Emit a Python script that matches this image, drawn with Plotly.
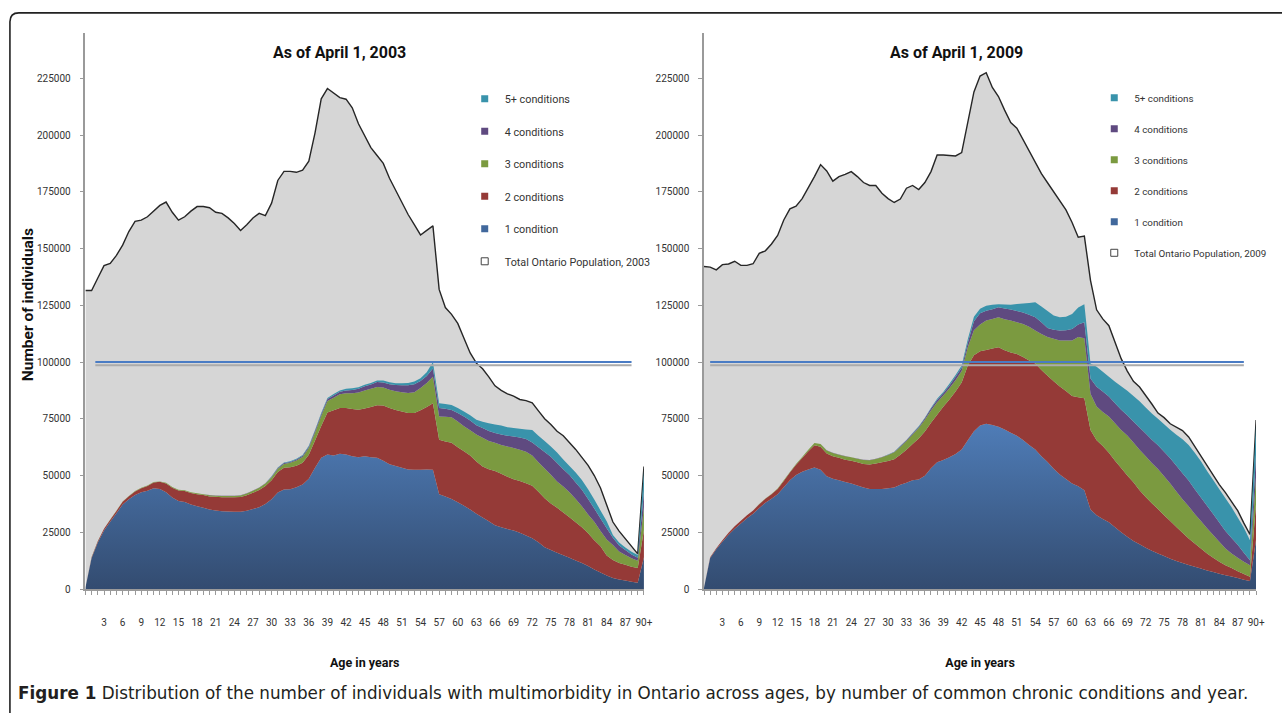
import plotly.graph_objects as go

# ---------------- data (values in thousands of individuals) ----------------
ages = list(range(91))
age_tick_vals = list(range(3, 91, 3))
age_tick_text = [str(a) for a in range(3, 90, 3)] + ["90+"]
y_tick_vals = [0, 25000, 50000, 75000, 100000, 125000, 150000, 175000, 200000, 225000]
reference_level = 100000

series_names = ["1 condition", "2 conditions", "3 conditions", "4 conditions", "5+ conditions"]

total_2003_k = [131.5, 131.5, 137, 142.5, 143.5, 147, 151.5, 157.5, 162, 162.5,
                164, 166.5, 169, 170.5, 166, 162.5, 164, 166.5, 168.5, 168.5,
                168, 166, 165.5, 163.5, 161, 158, 160.5, 163.5, 165.5, 164.5,
                170, 180, 184, 184, 183.6, 184.5, 188.5, 201, 216, 220.5,
                218.5, 216.5, 215.8, 212, 205, 199.5, 194.5, 191, 187.5, 181,
                175.5, 170.5, 165, 160.5, 156, 158, 160, 132, 124, 121,
                117, 110.5, 104, 99.5, 97, 93.5, 89.5, 87.5, 86, 85,
                83.5, 83, 82, 78.5, 75, 72.5, 69.5, 67.5, 64.5, 61.5,
                58, 54.5, 50, 44.5, 37, 29.5, 25.5, 22, 19, 15.5,
                54]
one_2003_k = [0.5, 13.7, 20.5, 25.8, 29.6, 33.4, 37.2, 39.5, 41.4, 42.6,
              43.3, 44.4, 44.1, 42.6, 40.3, 38.8, 38.3, 37.2, 36.5, 35.8,
              35, 34.6, 34.3, 34.2, 34, 34, 34.5, 35.2, 36, 37.5,
              39.5, 42.5, 43.8, 44, 44.8, 46, 48.6, 53.4, 57.8, 59.3,
              58.8, 59.6, 59.3, 58.5, 58.1, 58.5, 58.1, 57.8, 56.5, 55,
              54.2, 53.4, 52.7, 52.5, 52.5, 52.7, 52.5, 41.8, 40.8, 39.6,
              38.2, 36.7, 35, 33.2, 31.5, 29.8, 28.1, 27.2, 26.4, 25.8,
              24.8, 23.6, 22.4, 20.6, 18.4, 17.2, 16, 14.9, 13.8, 12.6,
              11.4, 10.1, 8.6, 7.3, 5.9, 4.9, 4.2, 3.7, 3.2, 2.8,
              14]
two_2003_k = [0, 0.3, 0.5, 0.7, 0.9, 1.0, 1.2, 1.4, 1.6, 1.8,
              2.1, 2.5, 3.1, 3.9, 4.3, 4.6, 4.9, 5.1, 5.3, 5.6,
              5.8, 6.0, 6.1, 6.2, 6.4, 6.5, 6.8, 7.2, 7.6, 7.9,
              8.4, 9.0, 9.6, 9.6, 9.5, 9.6, 10.5, 12.0, 14.0, 18.5,
              20.0, 20.2, 20.5, 20.8, 20.9, 21.0, 22.1, 23.2, 24.3, 24.8,
              24.7, 24.8, 24.9, 25.0, 26.3, 27.5, 29.3, 24.0, 24.2, 24.8,
              24.3, 24.0, 23.8, 23.0, 22.5, 23.0, 23.9, 23.6, 23.1, 22.6,
              22.8, 23.0, 23.1, 22.2, 21.6, 20.5, 19.8, 18.8, 17.8, 16.8,
              15.8, 14.5, 12.9, 11.5, 8.9, 7.9, 7.3, 7.0, 6.6, 6.4,
              12]
three_2003_k = [0, 0.05, 0.1, 0.1, 0.1, 0.1, 0.1, 0.1, 0.2, 0.2,
                0.2, 0.2, 0.2, 0.3, 0.3, 0.3, 0.3, 0.3, 0.4, 0.4,
                0.5, 0.5, 0.6, 0.6, 0.6, 0.7, 0.8, 0.9, 1.0, 1.1,
                1.3, 1.5, 1.7, 2.0, 2.3, 2.6, 3.0, 3.6, 4.4, 5.0,
                5.5, 6.0, 6.5, 7.0, 7.6, 8.0, 8.0, 8.0, 8.0, 8.0,
                8.2, 8.5, 8.8, 9.2, 9.8, 10.6, 11.7, 10.2, 10.9, 11.3,
                11.3, 11.0, 11.1, 11.9, 12.6, 12.4, 12.4, 12.7, 13.3, 13.7,
                13.7, 13.9, 13.3, 13.0, 13.1, 12.6, 11.6, 11.5, 11.0, 10.2,
                9.3, 8.2, 8.1, 6.7, 7.0, 6.6, 5.0, 4.3, 3.7, 3.3,
                10]
four_2003_k = [0, 0, 0, 0, 0, 0, 0, 0, 0, 0,
               0, 0, 0, 0, 0, 0, 0, 0, 0, 0,
               0.1, 0.1, 0.1, 0.1, 0.1, 0.1, 0.1, 0.1, 0.1, 0.1,
               0.3, 0.3, 0.4, 0.4, 0.5, 0.5, 0.6, 0.7, 0.8, 0.9,
               1.0, 1.1, 1.2, 1.4, 1.6, 1.8, 1.9, 2.2, 2.2, 2.4,
               2.8, 3.1, 3.4, 3.5, 3.0, 3.0, 3.6, 3.8, 3.5, 3.2,
               3.7, 4.3, 4.3, 4.1, 4.3, 4.4, 4.3, 4.6, 4.7, 5.1,
               5.4, 5.6, 5.8, 6.7, 7.3, 8.0, 8.1, 7.6, 7.6, 7.3,
               7.2, 6.9, 5.9, 5.6, 5.0, 3.2, 2.7, 2.2, 1.7, 1.3,
               7]
five_2003_k = [0, 0, 0, 0, 0, 0, 0, 0, 0, 0,
               0, 0, 0, 0, 0, 0, 0, 0, 0, 0,
               0, 0, 0, 0, 0, 0, 0, 0, 0, 0,
               0.2, 0.2, 0.2, 0.3, 0.3, 0.3, 0.4, 0.4, 0.5, 0.5,
               0.6, 0.6, 0.7, 0.7, 0.7, 0.7, 0.7, 0.7, 0.9, 0.9,
               0.8, 0.8, 1.0, 1.2, 1.3, 1.7, 2.9, 2.0, 2.1, 2.2,
               2.3, 2.2, 2.3, 2.4, 2.8, 3.4, 3.8, 3.9, 3.8, 3.7,
               3.9, 4.2, 5.4, 5.0, 4.8, 4.5, 4.6, 4.3, 4.0, 4.4,
               4.3, 4.3, 3.9, 3.5, 3.0, 1.2, 1.3, 1.1, 1.2, 1.2,
               9]

total_2009_k = [142.1, 141.8, 140.6, 142.9, 143.2, 144.4, 142.6, 142.6, 143.3, 147.9,
                149, 152, 155.8, 162.6, 167.5, 168.7, 172, 176.6, 181.7, 187,
                184.2, 179.7, 181.7, 182.7, 183.9, 181.7, 179.1, 177.8, 177.8, 174.4,
                172, 170.3, 171.8, 176.6, 177.8, 176, 179.1, 183.9, 191.2, 191.2,
                190.9, 190.8, 192.3, 205, 219, 226, 227.5, 221, 217, 211,
                205.5, 203, 198, 192.5, 188, 183, 179, 175, 171, 167,
                161.5, 155, 155.5, 136, 123, 119, 116, 109, 101.5, 96,
                91.5, 89, 85.5, 81.5, 77.5, 75.5, 72.8, 71.2, 69.8, 67,
                62.8, 59, 54.5, 50.3, 46, 42.5, 38.5, 34.5, 29, 24,
                74.5]
one_2009_k = [0.5, 13.7, 17.5, 20.8, 23.9, 26.6, 28.9, 31.2, 33.1, 35.7,
              38, 39.8, 41.8, 44.8, 47.9, 50.2, 51.7, 52.7, 53.5, 52.5,
              49.7, 48.6, 47.9, 47.1, 46.5, 45.6, 44.7, 44.1, 44.1, 44.1,
              44.4, 44.7, 45.9, 46.8, 47.9, 48.3, 49.9, 53.2, 55.8, 56.8,
              58, 59.5, 61.5, 65.5, 69.5, 72, 72.8, 72.3, 71.5, 70.3,
              68.8, 67.5, 65.7, 63.5, 61.5, 58.5, 56, 53, 50.5, 48.5,
              46.5, 45.3, 43.5, 35, 32.5, 30.8, 29.4, 27.2, 25, 23,
              21.2, 19.7, 18.2, 16.8, 15.6, 14.5, 13.3, 12.3, 11.4, 10.6,
              9.8, 9, 8.2, 7.5, 6.7, 6.1, 5.5, 4.8, 4.1, 3.5,
              22]
two_2009_k = [0, 0.3, 0.5, 0.7, 0.9, 1.0, 1.2, 1.3, 1.5, 1.6,
              1.8, 2.0, 2.3, 2.8, 3.4, 4.5, 6.0, 8.0, 9.8, 10.2,
              10.0, 9.9, 9.9, 9.9, 10.0, 10.2, 10.4, 10.8, 11.2, 11.7,
              12.0, 12.5, 13.2, 14.5, 16.0, 18.0, 19.5, 20.0, 21.0, 23.5,
              25.5, 27.5, 29.5, 33.0, 33.5, 32.8, 32.5, 33.7, 35.0, 34.9,
              35.4, 36.0, 36.5, 37.2, 37.8, 38.0, 38.0, 38.5, 38.7, 38.7,
              38.5, 39.2, 40.5, 35.0, 33.0, 32.2, 30.6, 29.3, 28.3, 27.0,
              25.8, 23.8, 22.3, 21.0, 19.7, 18.0, 16.7, 15.0, 13.4, 11.6,
              10.2, 8.8, 7.4, 6.3, 5.3, 4.4, 3.7, 3.0, 2.5, 1.9,
              16]
three_2009_k = [0, 0, 0, 0, 0, 0, 0, 0, 0, 0.1,
                0.1, 0.1, 0.2, 0.3, 0.3, 0.4, 0.5, 0.7, 1.0, 1.2,
                1.3, 1.4, 1.4, 1.5, 1.5, 1.6, 1.7, 1.8, 2.0, 2.3,
                2.6, 3.0, 3.5, 3.9, 4.2, 4.6, 5.2, 5.5, 5.5, 5.0,
                5.0, 5.0, 5.0, 8.0, 11.0, 11.7, 13.0, 13.0, 13.2, 13.6,
                14.1, 14.0, 14.6, 14.8, 14.6, 15.9, 17.0, 18.8, 20.3, 22.3,
                24.5, 26.5, 26.5, 16.0, 14.9, 15.0, 16.0, 16.5, 16.7, 17.6,
                17.5, 17.8, 18.0, 17.7, 17.6, 17.2, 16.5, 15.7, 14.7, 14.3,
                13.0, 12.2, 11.2, 10.0, 8.8, 7.3, 6.4, 6.0, 5.4, 5.1,
                12]
four_2009_k = [0, 0, 0, 0, 0, 0, 0, 0, 0, 0,
               0, 0, 0, 0, 0, 0, 0, 0, 0, 0,
               0.1, 0.1, 0.1, 0.1, 0.1, 0.1, 0.1, 0.1, 0.1, 0.1,
               0.2, 0.2, 0.3, 0.3, 0.4, 0.5, 0.6, 0.8, 1.0, 1.0,
               1.2, 1.5, 1.5, 2.0, 4.0, 5.0, 4.3, 4.3, 4.4, 4.8,
               4.9, 5.0, 5.0, 5.3, 5.8, 5.1, 4.0, 3.9, 4.4, 4.5,
               5.1, 5.5, 7.0, 6.8, 8.7, 9.0, 8.8, 8.8, 9.0, 8.9,
               9.3, 9.9, 10.0, 10.3, 10.4, 10.8, 11.1, 11.3, 11.5, 11.3,
               11.0, 10.3, 9.9, 9.2, 8.5, 7.7, 6.9, 5.7, 4.0, 2.2,
               10]
five_2009_k = [0, 0, 0, 0, 0, 0, 0, 0, 0, 0,
               0, 0, 0, 0, 0, 0, 0, 0, 0, 0,
               0, 0, 0, 0, 0, 0, 0, 0, 0, 0,
               0.1, 0.1, 0.2, 0.2, 0.2, 0.3, 0.3, 0.4, 0.5, 0.5,
               0.7, 0.8, 1.0, 1.5, 2.0, 2.0, 2.2, 1.9, 1.4, 1.7,
               2.0, 3.1, 4.0, 5.2, 6.6, 7.0, 7.5, 6.3, 5.8, 6.0,
               6.6, 7.5, 8.0, 6.5, 8.8, 8.7, 8.7, 9.5, 10.3, 10.8,
               11.2, 11.5, 11.5, 11.5, 11.7, 12.1, 12.6, 13.7, 15.0, 15.7,
               16.0, 16.0, 15.3, 15.0, 14.7, 14.5, 13.5, 12.0, 11.0, 8.8,
               13]

panels = [
    {"year": "2003", "total": total_2003_k,
     "layers": [one_2003_k, two_2003_k, three_2003_k, four_2003_k, five_2003_k]},
    {"year": "2009", "total": total_2009_k,
     "layers": [one_2009_k, two_2009_k, three_2009_k, four_2009_k, five_2009_k]},
]

# ---------------- styling ----------------
W, H = 1282, 713
FONT = "Roboto, Liberation Sans, sans-serif"
layer_colors = ["#41689c", "#953a37", "#7b9a40", "#5f4a80", "#3993ab"]
blue_gradient = [[0, "#324a6e"], [1, "#4f7db8"]]
GREY_FILL = "#d6d6d6"
AXIS_GREY = "#9a9a9a"


def px_x(p):
    return p / W


def px_y(p):
    return 1 - p / H


Y_MAX = 245000
y_domain = [px_y(594), px_y(594 - Y_MAX * 515 / 225000)]
x_domains = [[px_x(86), px_x(648.5)], [px_x(709), px_x(1265)]]

fig = go.Figure()

for i, panel in enumerate(panels):
    xa = "x" if i == 0 else "x2"
    ya = "y" if i == 0 else "y2"
    fig.add_trace(go.Scatter(
        x=ages, y=[v * 1000 for v in panel["total"]], xaxis=xa, yaxis=ya,
        mode="lines", fill="tozeroy", fillcolor=GREY_FILL,
        line=dict(color="#262626", width=1.4),
        name="Total Ontario Population, " + panel["year"], showlegend=False,
        hoverinfo="skip"))
    for j, (layer, name) in enumerate(zip(panel["layers"], series_names)):
        tr = dict(x=ages, y=[v * 1000 for v in layer], xaxis=xa, yaxis=ya,
                  mode="none", stackgroup="s" + panel["year"], name=name,
                  showlegend=False, hoverinfo="skip")
        if j == 0:
            tr["fillgradient"] = dict(type="vertical", colorscale=blue_gradient,
                                      start=0, stop=75000)
        else:
            tr["fillcolor"] = layer_colors[j]
        fig.add_trace(go.Scatter(**tr))

    # legend entries (small square markers), 5+ first, total last
    leg = "legend" if i == 0 else "legend2"
    for j in range(4, -1, -1):
        fig.add_trace(go.Scatter(
            x=[None], y=[None], xaxis=xa, yaxis=ya, mode="markers",
            marker=dict(symbol="square", size=7, color=layer_colors[j]),
            name=series_names[j], legend=leg, legendgroup=leg + str(j)))
    fig.add_trace(go.Scatter(
        x=[None], y=[None], xaxis=xa, yaxis=ya, mode="markers",
        marker=dict(symbol="square", size=7, color="white",
                    line=dict(color="#444", width=1)),
        name="Total Ontario Population, " + panel["year"], legend=leg,
        legendgroup=leg + "t"))

axis_common = dict(showline=True, linecolor=AXIS_GREY, linewidth=1.5,
                   ticks="outside", ticklen=4, tickcolor=AXIS_GREY,
                   showgrid=False, zeroline=False, fixedrange=True,
                   tickfont=dict(family=FONT, size=10, color="#333"))

for i in range(2):
    xkey = "xaxis" if i == 0 else "xaxis2"
    ykey = "yaxis" if i == 0 else "yaxis2"
    xaxis = dict(axis_common, domain=x_domains[i], range=[0, 90],
                 tickmode="array", tickvals=age_tick_vals, ticktext=age_tick_text,
                 tickangle=0, ticklabelstandoff=19, anchor="y" if i == 0 else "y2",
                 minor=dict(dtick=1, tick0=0, ticks="outside", ticklen=4,
                            tickcolor=AXIS_GREY),
                 title=dict(text="<b>Age in years</b>", standoff=31,
                            font=dict(family=FONT, size=12.5, color="#111")))
    yaxis = dict(axis_common, domain=y_domain, range=[0, Y_MAX],
                 tickmode="array", tickvals=y_tick_vals, tickformat="d",
                 ticklabelstandoff=7, anchor="x" if i == 0 else "x2")
    fig.layout[xkey] = xaxis
    fig.layout[ykey] = yaxis

# y-axis title of the left panel
fig.add_annotation(text="<b>Number of individuals</b>", xref="paper", yref="paper",
                   x=px_x(29), y=px_y(307), xanchor="center", yanchor="middle",
                   textangle=-90, showarrow=False,
                   font=dict(family=FONT, size=15.5, color="#111"))

# reference line at 100 000 (blue with a grey shadow)
for i, (xs, xe) in enumerate([(1.6, 88), (1.0, 88)]):
    xr = "x" if i == 0 else "x2"
    yr = "y" if i == 0 else "y2"
    fig.add_shape(type="line", xref=xr, yref=yr, x0=xs, x1=xe,
                  y0=reference_level - 1400, y1=reference_level - 1400,
                  line=dict(color="#ababab", width=2))
    fig.add_shape(type="line", xref=xr, yref=yr, x0=xs, x1=xe,
                  y0=reference_level, y1=reference_level,
                  line=dict(color="#4a7cc4", width=2))

# outer rounded frame
fx, fy, rx, ry = px_x(10), px_y(13), 9 / W, 9 / H
fig.add_shape(type="path", xref="paper", yref="paper",
              path=f"M {fx},-0.1 L {fx},{fy - ry} Q {fx},{fy} {fx + rx},{fy} L 1.1,{fy}",
              line=dict(color="#222", width=1.6))

fig.add_annotation(text="<b>As of April 1, 2003</b>", xref="paper", yref="paper",
                   x=px_x(342), y=px_y(53), xanchor="center", yanchor="middle",
                   showarrow=False, font=dict(family=FONT, size=16, color="#111"))
fig.add_annotation(text="<b>As of April 1, 2009</b>", xref="paper", yref="paper",
                   x=px_x(963), y=px_y(53), xanchor="center", yanchor="middle",
                   showarrow=False, font=dict(family=FONT, size=16, color="#111"))
fig.add_annotation(
    text="<b>Figure 1</b> Distribution of the number of individuals with multimorbidity in Ontario "
         "across ages, by number of common chronic conditions and year.",
    xref="paper", yref="paper", x=px_x(16), y=px_y(699), xanchor="left",
    yanchor="middle", showarrow=False,
    font=dict(family="DejaVu Sans, sans-serif", size=16.8, color="#231f20"))

legend_common = dict(xanchor="left", yanchor="top", bgcolor="rgba(0,0,0,0)",
                     traceorder="grouped", itemwidth=30)
fig.update_layout(
    width=W, height=H, autosize=False,
    margin=dict(l=0, r=0, t=0, b=0),
    paper_bgcolor="white", plot_bgcolor="white",
    showlegend=True,
    legend=dict(legend_common, x=px_x(468), y=px_y(85), tracegroupgap=13.5,
                font=dict(family=FONT, size=10.8, color="#333")),
    legend2=dict(legend_common, x=px_x(1102), y=px_y(84), tracegroupgap=12,
                 font=dict(family=FONT, size=9.8, color="#333")),
)

fig.write_html("out.html", config={"displayModeBar": False},
               post_script="document.body.style.margin='0';document.body.style.overflow='hidden';")
